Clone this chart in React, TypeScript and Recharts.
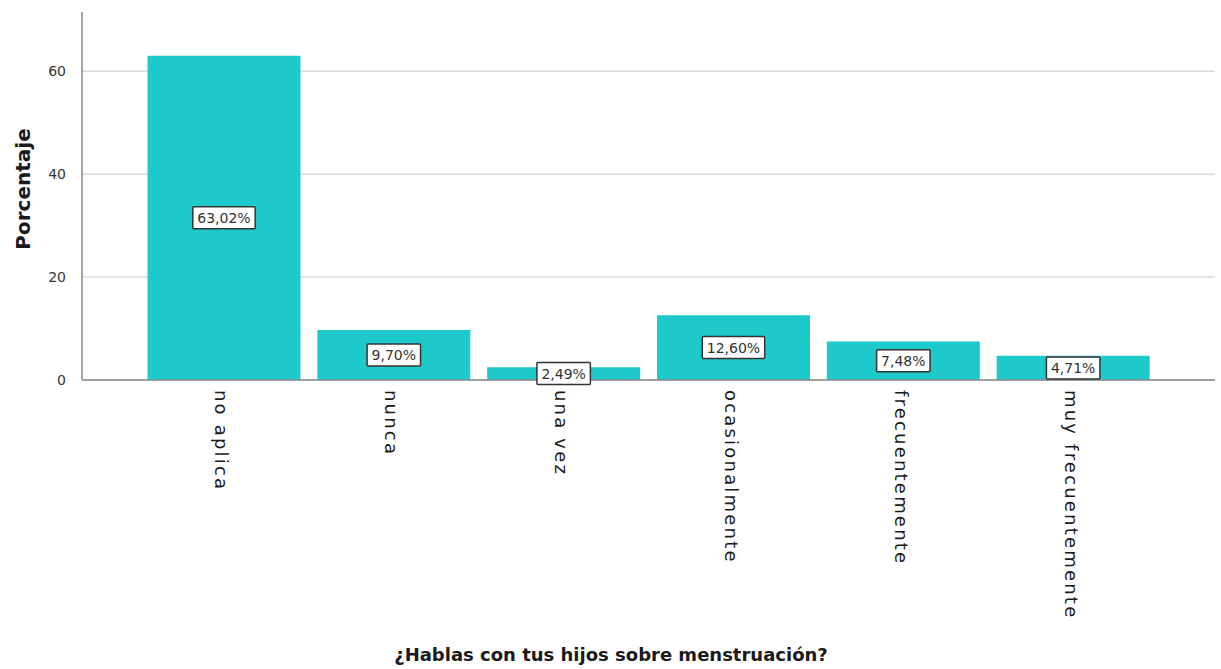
import React from "react";
import { Bar, BarChart, CartesianGrid, LabelList, XAxis, YAxis } from "recharts";

const categories = ["no aplica", "nunca", "una vez", "ocasionalmente", "frecuentemente", "muy frecuentemente"];
const percentages = [63.02, 9.7, 2.49, 12.6, 7.48, 4.71];
const yTicks = [0, 20, 40, 60];

const data = categories.map((name, i) => ({ name, value: percentages[i] }));

const fmt = (v: number) => v.toFixed(2).replace(".", ",") + "%";

// rough DejaVu Sans advance widths (em)
const charW = (c: string) => (c === "," ? 0.318 : c === "%" ? 0.95 : 0.636);

function BoxLabel(props: any) {
  const { x, y, width, height, value } = props;
  const text = fmt(Number(value));
  const fs = 14;
  const w = text.split("").reduce((s, c) => s + charW(c) * fs, 0) + 9;
  const h = 22;
  const cx = x + width / 2;
  const cy = y + height / 2;
  return (
    <g>
      <rect x={cx - w / 2} y={cy - h / 2} width={w} height={h} fill="#fff" stroke="#333" strokeWidth={1.5} rx={1} />
      <text x={cx} y={cy} textAnchor="middle" dominantBaseline="central" fontSize={fs} fontFamily="DejaVu Sans" fill="#333">
        {text}
      </text>
    </g>
  );
}

function XTick({ x, y, payload }: any) {
  return (
    <text
      transform={`translate(${x - 2},${y + 8}) rotate(90)`}
      fontSize={18}
      letterSpacing={2.2}
      fontFamily="DejaVu Sans"
      dominantBaseline="central"
      fill="#1a1a1a"
    >
      {payload.value}
    </text>
  );
}

export default function App() {
  return (
    <div style={{ position: "absolute", left: 0, top: 0, background: "#fff" }}>
      <BarChart width={1221} height={669} data={data} margin={{ top: 12, right: 6, left: 0, bottom: 0 }} barCategoryGap="5%">
        <CartesianGrid vertical={false} horizontalValues={yTicks} stroke="#d9d9d9" strokeWidth={1.5} />
        <XAxis
          dataKey="name"
          height={289}
          interval={0}
          padding={{ left: 57, right: 57 }}
          tickLine={false}
          tickSize={0}
          tick={<XTick />}
          axisLine={{ stroke: "#8a8a8a", strokeWidth: 1.5 }}
          label={{
            content: () => (
              <text x={611} y={661} textAnchor="middle" fontSize={18} fontWeight="bold" fontFamily="DejaVu Sans" fill="#1a1a1a">
                ¿Hablas con tus hijos sobre menstruación?
              </text>
            ),
          }}
        />
        <YAxis
          width={82}
          domain={[0, 71.5]}
          ticks={yTicks}
          tickLine={false}
          tickSize={0}
          tickMargin={16}
          tick={{ fontSize: 14, fill: "#333", fontFamily: "DejaVu Sans" }}
          axisLine={{ stroke: "#8a8a8a", strokeWidth: 1.5 }}
          label={{
            content: () => (
              <text
                transform="translate(23,189) rotate(-90)"
                textAnchor="middle"
                dominantBaseline="central"
                fontSize={20}
                fontWeight="bold"
                fontFamily="DejaVu Sans"
                fill="#1a1a1a"
              >
                Porcentaje
              </text>
            ),
          }}
        />
        <Bar dataKey="value" fill="#1ec9c9" isAnimationActive={false}>
          <LabelList dataKey="value" content={<BoxLabel />} />
        </Bar>
      </BarChart>
    </div>
  );
}
